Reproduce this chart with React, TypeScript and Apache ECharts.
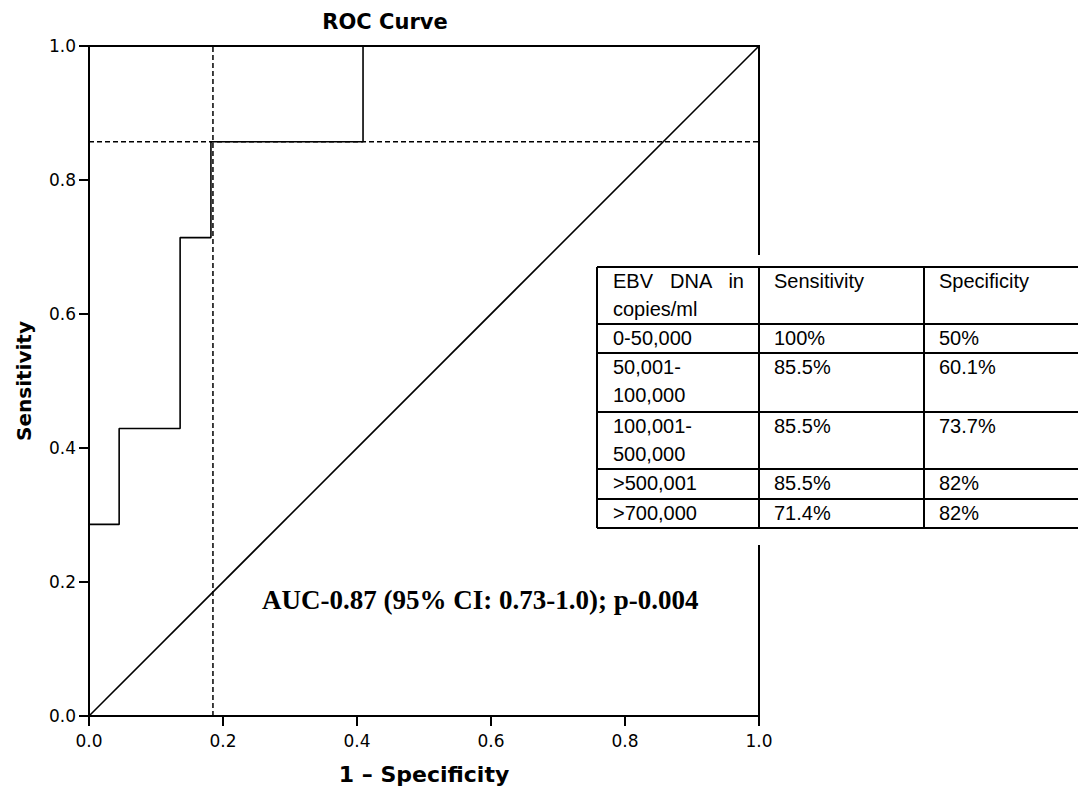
import React, { useEffect, useRef } from "react";
import * as echarts from "echarts";

// ROC curve vertices (1 - specificity, sensitivity)
const rocFpr = [0, 0, 0.045, 0.045, 0.136, 0.136, 0.182, 0.182, 0.409, 0.409, 1.0];
const rocTpr = [0, 0.286, 0.286, 0.429, 0.429, 0.714, 0.714, 0.857, 0.857, 1.0, 1.0];
// reference diagonal
const diagFpr = [0, 1];
const diagTpr = [0, 1];
// cut-off reference lines
const cutoffFpr = 0.185;
const cutoffTpr = 0.857;
// axis tick values
const tickValues = [0, 0.2, 0.4, 0.6, 0.8, 1.0];

const titleText = "ROC Curve";
const xName = "1 – Specificity";
const yName = "Sensitivity";
const aucText = "AUC-0.87 (95% CI: 0.73-1.0); p-0.004";

// table
const tableHeader = ["copies/ml", "Sensitivity", "Specificity"];
const tableRanges = ["0-50,000", "50,001-\n100,000", "100,001-\n500,000", ">500,001", ">700,000"];
const tableSens = ["100%", "85.5%", "85.5%", "85.5%", "71.4%"];
const tableSpec = ["50%", "60.1%", "73.7%", "82%", "82%"];

export default function App() {
  const ref = useRef<HTMLDivElement>(null);
  useEffect(() => {
    document.body.style.margin = "0";
    const chart = echarts.init(ref.current!, null, { renderer: "svg" });

    const G = { left: 89, top: 46, w: 670, h: 670 };
    const tickFont = "DejaVu Sans";
    const boldFont = "DejaVu Sans";
    const TICK = 10;

    // table geometry
    const colX = [597, 759, 924, 1090];
    const rowY = [267, 324, 353, 412, 469, 499, 528];
    const textPad = 16;
    const tFont = "Liberation Sans";
    const tSize = 20;

    const tableEls: any[] = [];
    tableEls.push({
      type: "rect",
      shape: { x: 588, y: 255, width: 500, height: 290 },
      style: { fill: "#fff" },
      z: 100,
    });
    rowY.forEach((y) => {
      tableEls.push({
        type: "line",
        shape: { x1: colX[0], y1: y, x2: colX[3], y2: y },
        style: { stroke: "#000", lineWidth: 2 },
        z: 101,
      });
    });
    colX.forEach((x) => {
      tableEls.push({
        type: "line",
        shape: { x1: x, y1: rowY[0], x2: x, y2: rowY[rowY.length - 1] },
        style: { stroke: "#000", lineWidth: 2 },
        z: 101,
      });
    });
    const txt = (s: string, x: number, y: number, align: string = "left") => ({
      type: "text",
      x,
      y,
      z: 102,
      style: {
        text: s,
        fill: "#000",
        font: `${tSize}px "${tFont}", Arial, sans-serif`,
        align,
        verticalAlign: "top",
        lineHeight: 28,
      },
    });
    // header row, justified first line
    tableEls.push(txt("EBV", colX[0] + textPad, rowY[0]));
    tableEls.push(txt("DNA", 670, rowY[0]));
    tableEls.push(txt("in", 744, rowY[0], "right"));
    tableEls.push(txt(tableHeader[0], colX[0] + textPad, rowY[0] + 28));
    tableEls.push(txt(tableHeader[1], colX[1] + 15, rowY[0]));
    tableEls.push(txt(tableHeader[2], colX[2] + 15, rowY[0]));
    tableRanges.forEach((r, i) => {
      const y = rowY[i + 1];
      tableEls.push(txt(r, colX[0] + textPad, y));
      tableEls.push(txt(tableSens[i], colX[1] + 15, y));
      tableEls.push(txt(tableSpec[i], colX[2] + 15, y));
    });

    const baseGraphic: any[] = [
      {
        type: "text",
        x: 385,
        y: 22,
        z: 50,
        style: {
          text: titleText,
          fill: "#000",
          font: `bold 21px "${boldFont}", sans-serif`,
          align: "center",
          verticalAlign: "middle",
        },
      },
      {
        type: "text",
        x: 262,
        y: 600,
        z: 50,
        style: {
          text: aucText,
          fill: "#000",
          font: `bold 27px "Liberation Serif", "Times New Roman", serif`,
          align: "left",
          verticalAlign: "middle",
        },
      },
      ...tableEls,
    ];

    const axisCommon = {
      type: "value",
      min: 0,
      max: 1,
      interval: 0.2,
      axisLine: { show: true, lineStyle: { color: "#000", width: 2 } },
      axisTick: { show: true, inside: false, length: TICK, lineStyle: { color: "#000", width: 2 } },
      splitLine: { show: false },
    };

    chart.setOption({
      animation: false,
      backgroundColor: "#fff",
      grid: {
        left: G.left,
        top: G.top,
        width: G.w,
        height: G.h,
        show: true,
        borderColor: "#000",
        borderWidth: 2,
        backgroundColor: "transparent",
        containLabel: false,
        outerBoundsMode: "none",
      },
      xAxis: {
        ...axisCommon,
        name: xName,
        nameLocation: "middle",
        nameGap: 47,
        nameTextStyle: { fontFamily: boldFont, fontWeight: "bold", fontSize: 22, color: "#000" },
        axisLabel: {
          margin: 16,
          color: "#000",
          fontFamily: tickFont,
          fontSize: 17,
          formatter: (v: number) => v.toFixed(1),
        },
      },
      yAxis: {
        ...axisCommon,
        name: yName,
        nameLocation: "middle",
        nameGap: 55,
        nameRotate: 90,
        nameTextStyle: { fontFamily: boldFont, fontWeight: "bold", fontSize: 20, color: "#000" },
        axisLabel: {
          margin: 13,
          color: "#000",
          fontFamily: tickFont,
          fontSize: 17,
          formatter: (v: number) => v.toFixed(1),
        },
      },
      series: [
        {
          type: "line",
          data: diagFpr.map((x, i) => [x, diagTpr[i]]),
          showSymbol: false,
          lineStyle: { color: "#000", width: 1.6 },
          z: 3,
        },
        {
          type: "line",
          data: [
            [cutoffFpr, 0],
            [cutoffFpr, 1],
          ],
          showSymbol: false,
          lineStyle: { color: "#000", width: 1.5, type: [5, 3] },
          z: 3,
        },
        {
          type: "line",
          data: [
            [0, cutoffTpr],
            [1, cutoffTpr],
          ],
          showSymbol: false,
          lineStyle: { color: "#000", width: 1.5, type: [5, 3] },
          z: 3,
        },
        {
          type: "line",
          data: rocFpr.map((x, i) => [x, rocTpr[i]]),
          showSymbol: false,
          lineStyle: { color: "#000", width: 1.6 },
          z: 4,
        },
      ],
      graphic: baseGraphic,
    });

    // outward tick marks positioned through the chart's own scales
    const tickEls: any[] = [];
    tickValues.forEach((v) => {
      const px = chart.convertToPixel({ gridIndex: 0 }, [v, 0]) as number[];
      const py = chart.convertToPixel({ gridIndex: 0 }, [0, v]) as number[];
      if (!px || !py) return;
      tickEls.push({
        type: "rect",
        shape: { x: px[0] - 1, y: px[1], width: 2, height: TICK },
        style: { fill: "#000" },
        z: 60,
      });
      tickEls.push({
        type: "rect",
        shape: { x: py[0] - TICK, y: py[1] - 1, width: TICK, height: 2 },
        style: { fill: "#000" },
        z: 60,
      });
    });
    chart.setOption({
      graphic: [...baseGraphic, { type: "group", children: tickEls }],
    });

    return () => chart.dispose();
  }, []);
  return <div ref={ref} style={{ width: 1078, height: 790 }} />;
}
